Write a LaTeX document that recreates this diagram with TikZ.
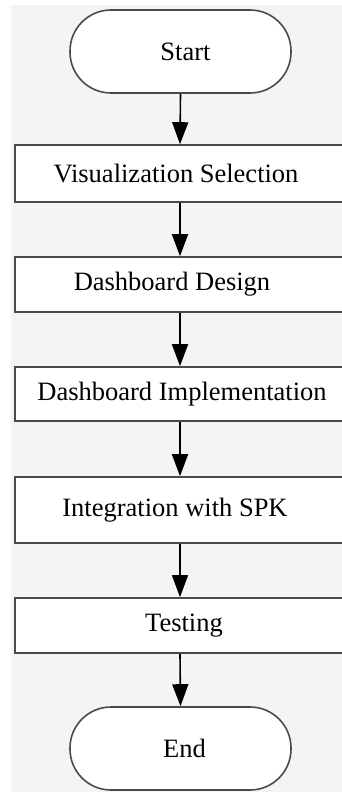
\documentclass[tikz,border=0pt]{standalone}
\usepackage{fontspec}
\setmainfont{Liberation Serif}
\usetikzlibrary{arrows.meta}
\definecolor{bg}{HTML}{F4F4F4}
\definecolor{edge}{HTML}{4A4A4A}
\newcommand{\sh}[2]{\hspace*{#1}#2}
\tikzset{
  terminal/.style={draw=edge, line width=1.6pt, fill=white, rounded corners=41pt,
    minimum width=221pt, minimum height=83pt, inner sep=0pt,
    font=\fontsize{26.5}{29}\selectfont},
  stepbox/.style={draw=edge, line width=1.6pt, fill=white,
    minimum width=330pt, inner sep=0pt, font=\fontsize{26.5}{29}\selectfont},
  flow/.style={draw=black, line width=1.6pt, -{Triangle[width=16pt,length=22pt]}}
}
\begin{document}
\begin{tikzpicture}[x=1pt,y=-1pt]
\useasboundingbox (0,0) rectangle (342,792);
\clip (0,0) rectangle (342,792);
\fill[bg] (11,5) rectangle (342,792);
\node[terminal] (start) at (180.5,51.5) {\sh{10pt}{Start}};
\node[stepbox, minimum height=57pt] (s1) at (180,173.5) {\sh{-8pt}{Visualization Selection}};
\node[stepbox, minimum height=55pt] (s2) at (180,284.5) {\sh{-16pt}{Dashboard Design}};
\node[stepbox, minimum height=54pt] (s3) at (180,394) {\sh{4pt}{Dashboard Implementation}};
\node[stepbox, minimum height=66pt] (s4) at (180,510) {\sh{-10pt}{Integration with SPK}};
\node[stepbox, minimum height=55pt] (s5) at (180,625.5) {\sh{8pt}{Testing}};
\node[terminal] (end) at (180.5,748.5) {\sh{8pt}{End}};
\draw[flow] (start.south) -- (s1.north);
\draw[flow] (s1.south) -- (s2.north);
\draw[flow] (s2.south) -- (s3.north);
\draw[flow] (s3.south) -- (s4.north);
\draw[flow] (s4.south) -- (s5.north);
\draw[flow] (s5.south) -- (end.north);
\end{tikzpicture}
\end{document}
